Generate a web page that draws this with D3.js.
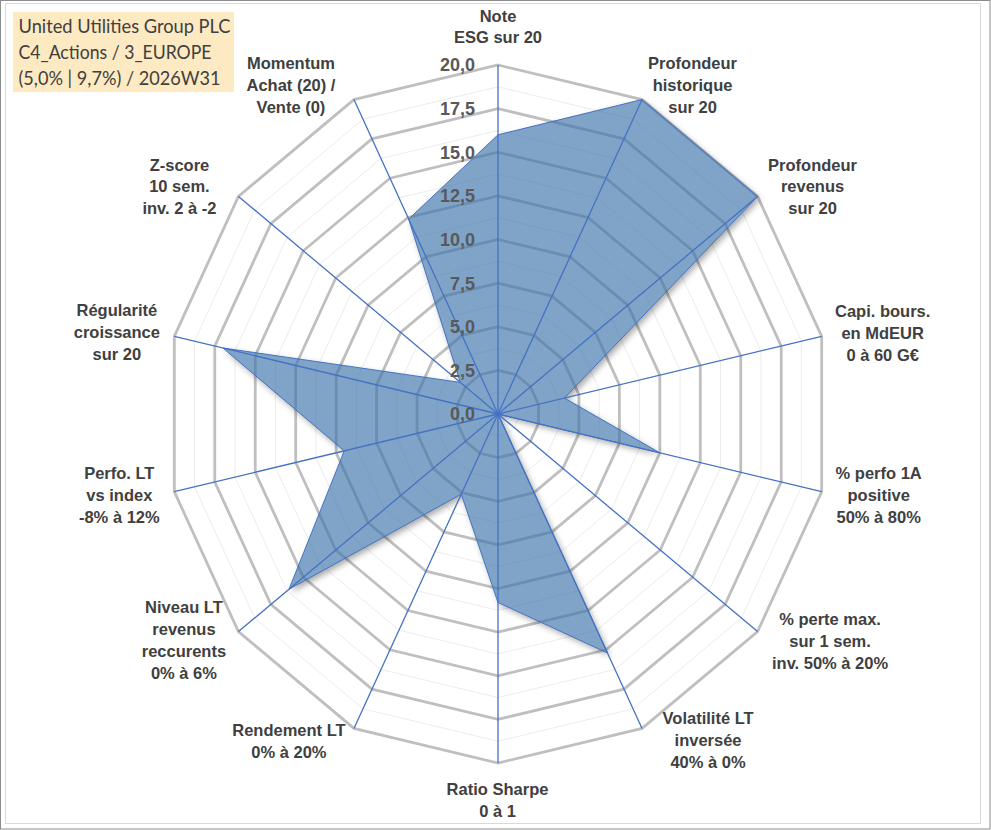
<!DOCTYPE html>
<html><head><meta charset="utf-8">
<script src="https://cdn.jsdelivr.net/npm/d3@7"></script>
<style>body{margin:0;background:#fff}svg{display:block}</style>
</head><body><svg id="c" width="991" height="830"></svg>
<script>
// ---------- DATA ----------
const categories = [
  ["Note","ESG sur 20"],
  ["Profondeur","historique","sur 20"],
  ["Profondeur","revenus","sur 20"],
  ["Capi. bours.","en MdEUR","0 à 60 G€"],
  ["% perfo 1A","positive","50% à 80%"],
  ["% perte max.","sur 1 sem.","inv. 50% à 20%"],
  ["Volatilité LT","inversée","40% à 0%"],
  ["Ratio Sharpe","0 à 1"],
  ["Rendement LT","0% à 20%"],
  ["Niveau LT","revenus","reccurents","0% à 6%"],
  ["Perfo. LT","vs index","-8% à 12%"],
  ["Régularité","croissance","sur 20"],
  ["Z-score","10 sem.","inv. 2 à -2"],
  ["Momentum","Achat (20) /","Vente (0)"]
];
const values = [16, 20, 20, 4.1, 10, 0, 15.2, 10.8, 5.1, 16.1, 9.5, 17, 2.9, 12.4];
const majorTicks = [0, 2.5, 5, 7.5, 10, 12.5, 15, 17.5, 20];
const tickLabels = ["0,0","2,5","5,0","7,5","10,0","12,5","15,0","17,5","20,0"];
const minorTicks = [1.25, 3.75, 6.25, 8.75, 11.25, 13.75, 16.25, 18.75];
const titleLines = ["United Utilities Group PLC","C4_Actions / 3_EUROPE","(5,0% | 9,7%) / 2026W31"];

// ---------- LAYOUT ----------
const W = 991, H = 830;
const cx = 498, cy = 414;
const labelOffsets = [[0,-38.5],[50.5,-14.5],[55,-10],[61,-3.5],[57,3.5],[72.5,9.5],[66,11.5],
                      [-0.5,37],[-65,12.5],[-54.5,8.5],[-55,3.5],[-57.5,-4],[-59,-10],[-63,-14.5]];
const titleWidths = [212, 193, 202];

const svg = d3.select("#c");
const n = categories.length;
const idx = d3.range(n);
const rX = d3.scaleLinear().domain([0, 20]).range([0, 332]);
const rY = d3.scaleLinear().domain([0, 20]).range([0, 349]);
const ang = d3.scaleLinear().domain([0, n]).range([0, 2 * Math.PI]);
const pt = (i, v) => [cx + rX(v) * Math.sin(ang(i)), cy - rY(v) * Math.cos(ang(i))];
const ring = d3.line().curve(d3.curveLinearClosed);

// frame
svg.append("rect").attr("x",0.5).attr("y",0.5).attr("width",W-1.5).attr("height",H-1.5)
  .attr("fill","#fff").attr("stroke","#8c8c8c").attr("stroke-width",1);
svg.append("rect").attr("x",5.5).attr("y",3.5).attr("width",975).attr("height",820)
  .attr("fill","#fff").attr("stroke","#d9d9d9").attr("stroke-width",1);

// defs: shadow blur + mask outside polygon
const defs = svg.append("defs");
defs.append("filter").attr("id","blur").attr("x","-20%").attr("y","-20%").attr("width","140%").attr("height","140%")
  .append("feGaussianBlur").attr("stdDeviation",3);
const polyPts = idx.map(i => pt(i, values[i]));
const mask = defs.append("mask").attr("id","outside").attr("maskUnits","userSpaceOnUse")
  .attr("x",0).attr("y",0).attr("width",W).attr("height",H);
mask.append("rect").attr("width",W).attr("height",H).attr("fill","#fff");
mask.append("path").attr("d", ring(polyPts)).attr("fill","#000");

// minor grid
svg.append("g").selectAll("path").data(minorTicks).join("path")
  .attr("d", t => ring(idx.map(i => pt(i, t))))
  .attr("fill","none").attr("stroke","#ececec").attr("stroke-width",1);
// major grid
svg.append("g").selectAll("path").data(majorTicks.filter(t => t > 0)).join("path")
  .attr("d", t => ring(idx.map(i => pt(i, t))))
  .attr("fill","none").attr("stroke","#bfbfbf").attr("stroke-width",2.8).attr("stroke-linejoin","miter");

// shadow
svg.append("path").attr("d", ring(polyPts.map(p => [p[0] + 2.5, p[1] + 3])))
  .attr("fill","#000").attr("fill-opacity",0.35).attr("filter","url(#blur)").attr("mask","url(#outside)");

// series fill
svg.append("path").attr("d", ring(polyPts))
  .attr("fill","rgb(60,113,170)").attr("fill-opacity",0.65)
  .attr("stroke","#4472c4").attr("stroke-width",1).attr("stroke-linejoin","round");

// spokes
svg.append("g").selectAll("line").data(idx).join("line")
  .attr("x1",cx).attr("y1",cy)
  .attr("x2", i => pt(i, 20)[0]).attr("y2", i => pt(i, 20)[1])
  .attr("stroke","#4472c4").attr("stroke-width",1.3);

// tick labels
const tickFs = 18;
svg.append("g").selectAll("text").data(majorTicks).join("text")
  .attr("x", cx - 23).attr("y", t => cy - rY(t) + 0.358 * tickFs)
  .attr("text-anchor","end")
  .attr("font-family","'Liberation Sans', Arial, sans-serif").attr("font-weight","bold")
  .attr("font-size", tickFs).attr("fill","#595959")
  .text((t, k) => tickLabels[k]);

// category labels
const catFs = 16.5, lh = 21.8;
const lg = svg.append("g").attr("font-family","'Liberation Sans', Arial, sans-serif")
  .attr("font-weight","bold").attr("font-size",catFs).attr("fill","#404040").attr("text-anchor","middle");
idx.forEach(i => {
  const e = pt(i, 20);
  const c = [e[0] + labelOffsets[i][0], e[1] + labelOffsets[i][1]];
  const lines = categories[i];
  const top = c[1] - (lines.length - 1) * lh / 2;
  const t = lg.append("text");
  lines.forEach((s, k) => {
    t.append("tspan").attr("x", c[0]).attr("y", top + k * lh + 0.358 * catFs).text(s);
  });
});

// title box
svg.append("rect").attr("x",13).attr("y",12).attr("width",221).attr("height",80).attr("fill","#fde9c2");
const tt = svg.append("g").attr("font-family","Lato, 'Open Sans', sans-serif").attr("font-size",19.5).attr("fill","#404040");
titleLines.forEach((s, k) => {
  tt.append("text").attr("x",18.5).attr("y",33 + k * 26)
    .attr("textLength", titleWidths[k]).attr("lengthAdjust","spacingAndGlyphs").text(s);
});
</script></body></html>
